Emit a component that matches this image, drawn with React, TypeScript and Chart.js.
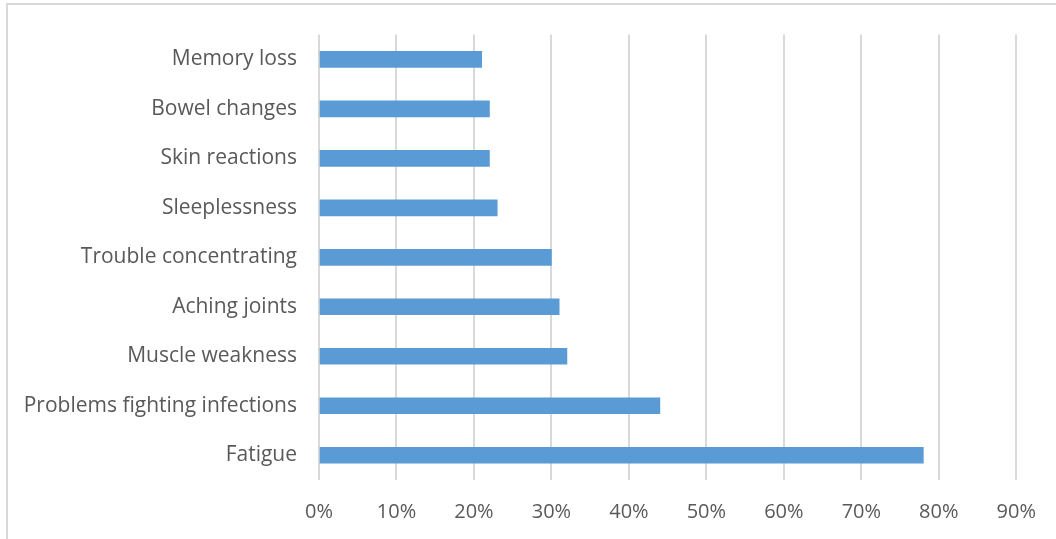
import React, { useEffect, useRef } from "react";
import { Chart, registerables } from "chart.js";

Chart.register(...registerables);

const categories = [
  "Memory loss",
  "Bowel changes",
  "Skin reactions",
  "Sleeplessness",
  "Trouble concentrating",
  "Aching joints",
  "Muscle weakness",
  "Problems fighting infections",
  "Fatigue",
];
const values = [21, 22, 22, 23, 30, 31, 32, 44, 78];
const xMin = 0;
const xMax = 90;
const xStep = 10;

const framePlugin = {
  id: "frame",
  beforeDraw(chart: any) {
    const ctx = chart.ctx;
    ctx.save();
    ctx.fillStyle = "#ffffff";
    ctx.fillRect(0, 0, chart.width, chart.height);
    ctx.strokeStyle = "#d9d9d9";
    ctx.lineWidth = 2;
    ctx.strokeRect(7, 4, chart.width + 20, chart.height + 20);
    ctx.restore();
  },
};

export default function App() {
  const ref = useRef<HTMLCanvasElement | null>(null);
  useEffect(() => {
    if (!ref.current) return;
    const chart = new Chart(ref.current, {
      type: "bar",
      data: {
        labels: categories,
        datasets: [
          {
            data: values,
            backgroundColor: "#5b9bd5",
            borderWidth: 0,
            barThickness: 16,
          },
        ],
      },
      plugins: [framePlugin],
      options: {
        indexAxis: "y",
        animation: false,
        responsive: false,
        maintainAspectRatio: false,
        layout: { padding: { left: 0, right: 39, top: 33, bottom: 0 } },
        plugins: { legend: { display: false }, tooltip: { enabled: false } },
        scales: {
          x: {
            min: xMin,
            max: xMax,
            grid: { color: "#d9d9d9", lineWidth: 2, drawTicks: false },
            border: { display: false },
            ticks: {
              stepSize: xStep,
              padding: 20,
              color: "#595959",
              font: { family: "'Open Sans'", size: 20 },
              maxRotation: 0,
              callback: (v: any) => v + "%",
            },
            afterFit: (s: any) => {
              s.height = 59;
            },
          },
          y: {
            grid: { display: false, drawTicks: false },
            border: { display: false },
            ticks: {
              padding: 22,
              color: "#595959",
              font: { family: "'Open Sans'", size: 21 },
            },
            afterFit: (s: any) => {
              s.width = 319;
            },
          },
        },
      },
    });
    return () => chart.destroy();
  }, []);
  return (
    <div style={{ position: "absolute", left: 0, top: 0, width: 1056, height: 539 }}>
      <canvas ref={ref} width={1056} height={539} style={{ width: 1056, height: 539 }} />
    </div>
  );
}
